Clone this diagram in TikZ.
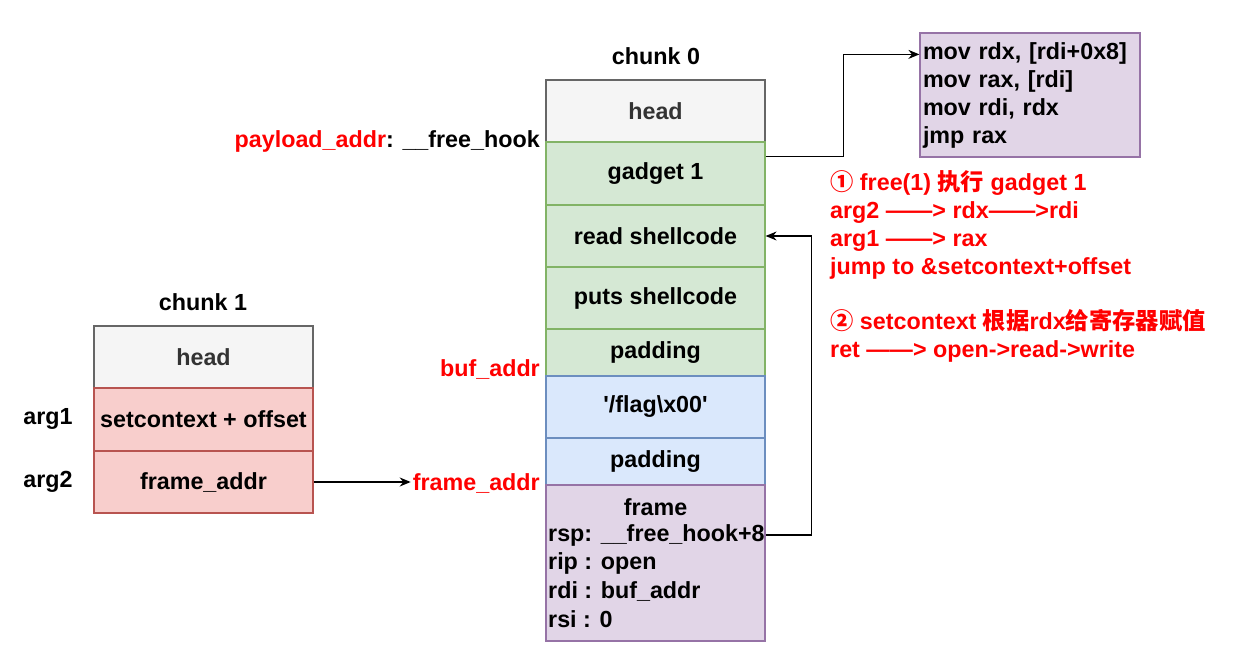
\documentclass[tikz,border=0pt]{standalone}
\usepackage{fontspec}
\setmainfont{Liberation Sans}
\newfontfamily\cjk{Noto Sans CJK SC}
\usetikzlibrary{calc,arrows.meta}
\definecolor{headfill}{HTML}{F5F5F5}
\definecolor{headline}{HTML}{666666}
\definecolor{headtext}{HTML}{333333}
\definecolor{greenfill}{HTML}{D5E8D4}
\definecolor{greenline}{HTML}{82B366}
\definecolor{bluefill}{HTML}{DAE8FC}
\definecolor{blueline}{HTML}{6C8EBF}
\definecolor{purplefill}{HTML}{E1D5E7}
\definecolor{purpleline}{HTML}{9673A6}
\definecolor{redfill}{HTML}{F8CECC}
\definecolor{redline}{HTML}{B85450}
\definecolor{notered}{HTML}{FF0000}

\begin{document}
\begin{tikzpicture}[x=1pt, y=-1pt, >={Stealth[length=11pt,width=9pt]},
  font=\fontsize{23.3}{28}\selectfont\bfseries,
  cell/.style={draw, line width=1.2pt, minimum width=219, inner sep=0pt},
  headcell/.style={cell, fill=headfill, draw=headline, text=headtext, minimum height=62},
  greencell/.style={cell, fill=greenfill, draw=greenline},
  bluecell/.style={cell, fill=bluefill, draw=blueline},
  purplecell/.style={cell, fill=purplefill, draw=purpleline},
  redcell/.style={cell, fill=redfill, draw=redline},
  addr/.style={anchor=east, inner sep=2pt, text=notered},
  note/.style={anchor=west, align=left, inner sep=2pt, text=notered},
  link/.style={->, line width=1.3pt}]
\fill[white] (0,0) rectangle (1235,647);
\useasboundingbox (0,0) rectangle (1235,647);

% chunk 0
\node at (656,56)(c0) {chunk 0};
\node[headcell] at (655.5,111)(h0) {head};
\node[greencell,minimum height=63] at (655.5,173.5)(g1) {gadget 1};
\node[greencell,minimum height=62] at (655.5,236)(rd) {read shellcode};
\node[greencell,minimum height=62] at (655.5,298)(pt) {puts shellcode};
\node[greencell,minimum height=47] at (655.5,352.5)(pad1) {padding};
\node[bluecell,minimum height=62] at (655.5,407)(flag) {\textquotesingle/flag\textbackslash x00\textquotesingle};
\node[bluecell,minimum height=47] at (655.5,461.5)(pad2) {padding};
\node[purplecell,minimum height=156] at (655.5,563)(frm) {};
\node at (655.5,507)(frmt) {frame};
\node[anchor=west,inner sep=2pt] at (546,535)(rsp) {rsp: \_\_free\_hook+8};
\node[anchor=west,inner sep=2pt] at (546,563)(rip) {rip : open};
\node[anchor=west,inner sep=2pt] at (546,591)(rdi) {rdi : buf\_addr};
\node[anchor=west,inner sep=2pt] at (546,619)(rsi) {rsi : 0};

% chunk 1
\node at (203,302)(c1) {chunk 1};
\node[headcell] at (203.5,357)(h1) {head};
\node[redcell,minimum height=63] at (203.5,419.5)(sc) {setcontext + offset};
\node[redcell,minimum height=62] at (203.5,482)(fa1) {frame\_addr};
\node at (48,419)(a1) {arg1};
\node at (48,482)(a2) {arg2};

% addresses
\node[anchor=east,inner sep=2pt] at (542,141)(pl) {{\color{notered}payload\_addr}: \_\_free\_hook};
\node[addr] at (542,369)(buf) {buf\_addr};
\node[addr] at (542,483)(faddr) {frame\_addr};

% gadget
\node[draw=purpleline, fill=purplefill, line width=1.2pt, minimum width=220, minimum height=124,
  text width=214, align=left, inner sep=3pt] at (1030,95)(gbox)
  {mov rdx, [rdi+0x8]\\mov rax, [rdi]\\mov rdi, rdx\\jmp rax};

% notes
\node[note] at (828,224.5)(n1) {{\cjk ①} free(1) {\cjk 执行} gadget 1\\arg2 ——> rdx——>rdi\\arg1 ——> rax\\jump to \&setcontext+offset};
\node[note] at (828,336)(n2) {{\cjk ②} setcontext {\cjk 根据}rdx{\cjk 给寄存器赋值}\\ret ——> open->read->write};

\draw[link] ($(g1.north east)+(0,15)$) -- ++(78,0) |- ($(gbox.north west)+(0,22)$);
\draw[link] (frm.east |- rsp) -- ++(46,0) |- (rd.east);
\draw[link] (fa1.east) -- (fa1.east -| faddr.west);

\end{tikzpicture}
\end{document}
